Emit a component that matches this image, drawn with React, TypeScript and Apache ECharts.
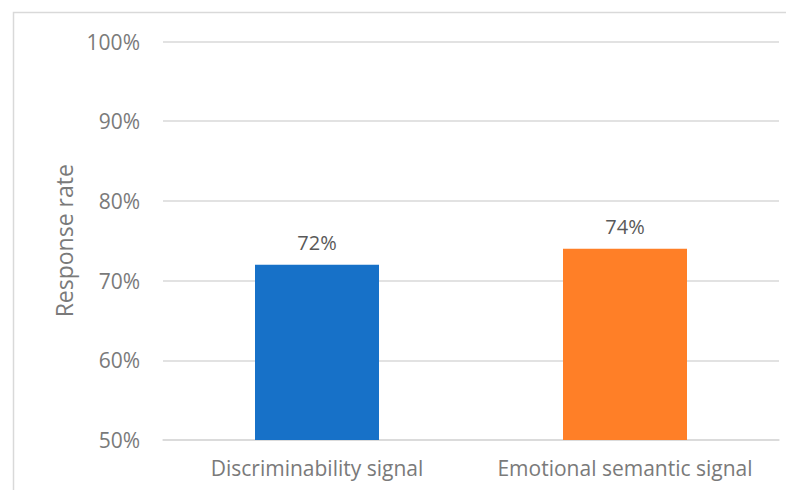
import React, { useEffect, useRef } from "react";
import * as echarts from "echarts";

const categories = ["Discriminability signal", "Emotional semantic signal"];
const responseRates = [72, 74];
const barColors = ["#1771C8", "#FF7F27"];
const yTicks = [50, 60, 70, 80, 90, 100];

const FONT = "'Open Sans', 'Noto Sans', sans-serif";
const AXIS_TEXT = "#7a7a7a";
const VALUE_TEXT = "#595959";

export default function App() {
  const ref = useRef<HTMLDivElement>(null);

  useEffect(() => {
    if (!ref.current) return;
    const chart = echarts.init(ref.current, undefined, { renderer: "svg" });
    chart.setOption({
      animation: false,
      backgroundColor: "#ffffff",
      graphic: [
        {
          type: "rect",
          shape: { x: 13.5, y: 12.5, width: 800, height: 500 },
          style: { fill: "none", stroke: "#d9d9d9", lineWidth: 1.5 },
          silent: true,
        },
      ],
      grid: { left: 163, right: 15, top: 41.5, bottom: 58 },
      xAxis: {
        type: "category",
        data: categories,
        axisLine: { show: true, lineStyle: { color: "#d9d9d9", width: 1.5 } },
        axisTick: { show: false },
        axisLabel: {
          interval: 0,
          hideOverlap: false,
          color: AXIS_TEXT,
          fontSize: 21,
          fontFamily: FONT,
          margin: 17,
        },
      },
      yAxis: {
        type: "value",
        min: yTicks[0],
        max: yTicks[yTicks.length - 1],
        interval: 10,
        name: "Response rate",
        nameLocation: "middle",
        nameGap: 86,
        nameTextStyle: { color: AXIS_TEXT, fontSize: 23, fontFamily: FONT },
        axisLine: { show: false },
        axisTick: { show: false },
        splitLine: { lineStyle: { color: "#d9d9d9", width: 1.5 } },
        axisLabel: {
          color: AXIS_TEXT,
          fontSize: 21,
          fontFamily: FONT,
          margin: 23,
          formatter: (v: number) => `${v}%`,
        },
      },
      series: [
        {
          type: "bar",
          barWidth: 124,
          data: responseRates.map((v, i) => ({
            value: v,
            itemStyle: { color: barColors[i] },
          })),
          label: {
            show: true,
            position: "top",
            distance: 12,
            color: VALUE_TEXT,
            fontSize: 20,
            fontFamily: FONT,
            formatter: (p: any) => `${p.value}%`,
          },
        },
      ],
    });
    return () => chart.dispose();
  }, []);

  return <div ref={ref} style={{ width: 794, height: 498, margin: -8 }} />;
}
